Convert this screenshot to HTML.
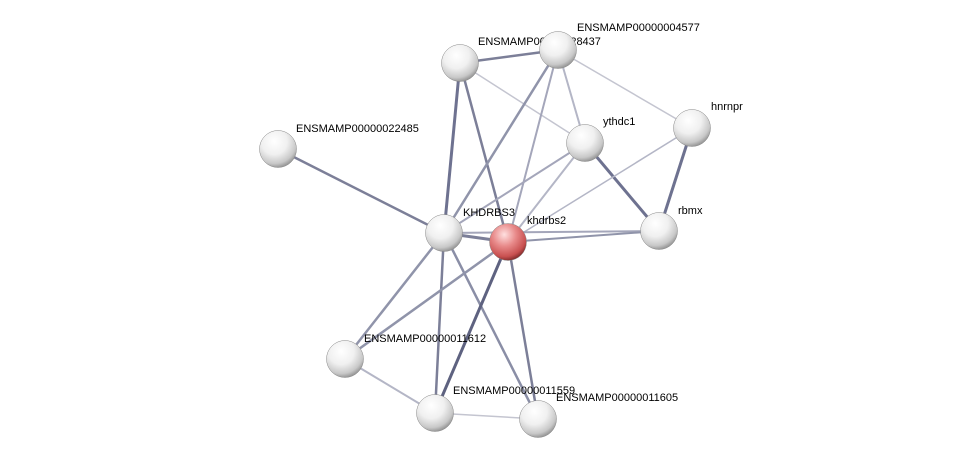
<!DOCTYPE html>
<html><head><meta charset="utf-8"><style>
html,body{margin:0;padding:0;background:#fff;}
svg{display:block;}
text{font-family:"Liberation Sans",Arial,sans-serif;font-size:11px;fill:#000;}
</style></head><body>
<svg width="975" height="464" viewBox="0 0 975 464" xmlns="http://www.w3.org/2000/svg">
<defs>
<radialGradient id="g" cx="40%" cy="30%" r="70%">
<stop offset="0" stop-color="#ffffff"/><stop offset="0.5" stop-color="#f0f0f0"/><stop offset="0.85" stop-color="#c8c8c8"/><stop offset="1" stop-color="#9a9a9a"/>
</radialGradient>
<radialGradient id="r" cx="40%" cy="30%" r="70%">
<stop offset="0" stop-color="#ffe0e0"/><stop offset="0.45" stop-color="#e88a8a"/><stop offset="0.85" stop-color="#c85050"/><stop offset="1" stop-color="#8a3030"/>
</radialGradient>
</defs>
<g stroke-linecap="round">
<line x1="460" y1="63" x2="558" y2="50" stroke="#7c7f98" stroke-width="2.5"/>
<line x1="460" y1="63" x2="585" y2="143" stroke="#c4c5d0" stroke-width="1.5"/>
<line x1="460" y1="63" x2="444" y2="233" stroke="#6e7290" stroke-width="3"/>
<line x1="460" y1="63" x2="508" y2="242" stroke="#7c7f98" stroke-width="2.5"/>
<line x1="558" y1="50" x2="585" y2="143" stroke="#b4b6c6" stroke-width="2"/>
<line x1="558" y1="50" x2="692" y2="128" stroke="#c4c5d0" stroke-width="1.5"/>
<line x1="558" y1="50" x2="444" y2="233" stroke="#9094aa" stroke-width="2.5"/>
<line x1="558" y1="50" x2="508" y2="242" stroke="#a4a6ba" stroke-width="2"/>
<line x1="585" y1="143" x2="659" y2="231" stroke="#6e7290" stroke-width="3"/>
<line x1="585" y1="143" x2="444" y2="233" stroke="#a4a6ba" stroke-width="2"/>
<line x1="585" y1="143" x2="508" y2="242" stroke="#b4b6c6" stroke-width="2"/>
<line x1="692" y1="128" x2="659" y2="231" stroke="#6e7290" stroke-width="3"/>
<line x1="692" y1="128" x2="508" y2="242" stroke="#b4b6c6" stroke-width="1.5"/>
<line x1="659" y1="231" x2="444" y2="233" stroke="#a4a6ba" stroke-width="2"/>
<line x1="659" y1="231" x2="508" y2="242" stroke="#9094aa" stroke-width="2"/>
<line x1="278" y1="149" x2="444" y2="233" stroke="#7c7f98" stroke-width="2.5"/>
<line x1="444" y1="233" x2="508" y2="242" stroke="#7c7f98" stroke-width="3"/>
<line x1="444" y1="233" x2="345" y2="359" stroke="#9094aa" stroke-width="2.5"/>
<line x1="444" y1="233" x2="435" y2="413" stroke="#7c7f98" stroke-width="2.5"/>
<line x1="444" y1="233" x2="538" y2="419" stroke="#8a8ea6" stroke-width="2.5"/>
<line x1="508" y1="242" x2="345" y2="359" stroke="#9094aa" stroke-width="2.5"/>
<line x1="508" y1="242" x2="435" y2="413" stroke="#5e6280" stroke-width="3"/>
<line x1="508" y1="242" x2="538" y2="419" stroke="#7c7f98" stroke-width="2.5"/>
<line x1="345" y1="359" x2="435" y2="413" stroke="#b4b6c6" stroke-width="2"/>
<line x1="435" y1="413" x2="538" y2="419" stroke="#c4c5d0" stroke-width="1.5"/>
</g>
<g>
<text x="478" y="45">ENSMAMP00000028437</text>
<text x="577" y="31">ENSMAMP00000004577</text>
<text x="603" y="125">ythdc1</text>
<text x="711" y="110">hnrnpr</text>
<text x="296" y="132">ENSMAMP00000022485</text>
<text x="463" y="216">KHDRBS3</text>
<text x="527" y="224">khdrbs2</text>
<text x="678" y="214">rbmx</text>
<text x="364" y="342">ENSMAMP00000011612</text>
<text x="453" y="394">ENSMAMP00000011559</text>
<text x="556" y="401">ENSMAMP00000011605</text>
</g>
<g stroke="#888" stroke-width="0.5">
<circle cx="460" cy="63" r="18.5" fill="url(#g)"/>
<circle cx="558" cy="50" r="18.5" fill="url(#g)"/>
<circle cx="585" cy="143" r="18.5" fill="url(#g)"/>
<circle cx="692" cy="128" r="18.5" fill="url(#g)"/>
<circle cx="278" cy="149" r="18.5" fill="url(#g)"/>
<circle cx="444" cy="233" r="18.5" fill="url(#g)"/>
<circle cx="659" cy="231" r="18.5" fill="url(#g)"/>
<circle cx="345" cy="359" r="18.5" fill="url(#g)"/>
<circle cx="435" cy="413" r="18.5" fill="url(#g)"/>
<circle cx="538" cy="419" r="18.5" fill="url(#g)"/>
<circle cx="508" cy="242" r="18.5" fill="url(#r)"/>
</g>
</svg>
</body></html>
